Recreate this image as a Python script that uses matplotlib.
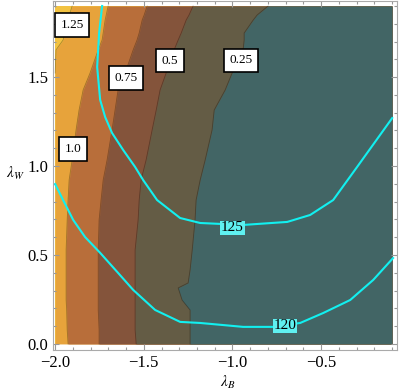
import numpy as np
import matplotlib
matplotlib.use("Agg")
from matplotlib import pyplot as plt
from matplotlib.ticker import MultipleLocator

# rows of the filled-contour picture (lambda_W)
y_rows = [1.90, 1.849, 1.821, 1.748, 1.709, 1.653, 1.523, 1.428, 1.315, 1.203, 1.034,
          0.922, 0.809, 0.697, 0.528, 0.416, 0.343, 0.315, 0.247, 0.191, 0.079, 0.0]
# lambda_B where each level is crossed on those rows
x_125 = [-1.904, -1.92, -1.927, -1.945, -1.955, -1.995, -2.0, -2.0, -2.0, -2.0, -2.0,
         -2.0, -2.0, -2.0, -2.0, -2.0, -2.0, -2.0, -2.0, -2.0, -2.0, -2.0]
x_100 = [-1.701, -1.712, -1.718, -1.729, -1.735, -1.757, -1.803, -1.842, -1.865, -1.882, -1.904,
         -1.921, -1.927, -1.932, -1.938, -1.938, -1.938, -1.938, -1.938, -1.935, -1.932, -1.927]
x_075 = [-1.481, -1.498, -1.509, -1.526, -1.538, -1.560, -1.605, -1.645, -1.662, -1.679, -1.707,
         -1.729, -1.741, -1.752, -1.757, -1.757, -1.757, -1.757, -1.757, -1.757, -1.752, -1.752]
x_050 = [-1.222, -1.245, -1.261, -1.289, -1.306, -1.329, -1.374, -1.408, -1.430, -1.453, -1.487,
         -1.515, -1.526, -1.532, -1.549, -1.549, -1.549, -1.549, -1.549, -1.549, -1.549, -1.543]
x_025 = [-0.799, -0.861, -0.883, -0.934, -0.934, -0.940, -1.002, -1.041, -1.103, -1.115, -1.154,
         -1.182, -1.205, -1.211, -1.227, -1.239, -1.250, -1.306, -1.284, -1.239, -1.239, -1.239]

# cyan curves
c125_x = [-1.735, -1.752, -1.763, -1.746, -1.718, -1.679, -1.616, -1.549, -1.504, -1.425,
          -1.295, -1.182, -0.940, -0.691, -0.562, -0.432, -0.297, -0.099]
c125_y = [1.900, 1.748, 1.557, 1.372, 1.276, 1.186, 1.090, 0.995, 0.922, 0.809,
          0.708, 0.680, 0.669, 0.686, 0.725, 0.809, 0.995, 1.270]
c120_x = [-2.0, -1.955, -1.898, -1.831, -1.746, -1.650, -1.560, -1.436, -1.295, -1.182,
          -0.940, -0.770, -0.618, -0.488, -0.336, -0.206, -0.094]
c120_y = [0.899, 0.809, 0.697, 0.601, 0.512, 0.405, 0.304, 0.191, 0.124, 0.118,
          0.096, 0.096, 0.118, 0.174, 0.247, 0.360, 0.483]

fill_colors = ["#f2c241", "#e7a33b", "#b86e3a", "#84543b", "#645c45", "#426565"]
box_labels = ["1.25", "1.0", "0.75", "0.5", "0.25"]
box_pos = [(-1.904, 1.793), (-1.898, 1.096), (-1.600, 1.495), (-1.351, 1.591), (-0.951, 1.596)]

plt.rcParams['font.family'] = ['Liberation Serif', 'DejaVu Serif']
plt.rcParams['mathtext.fontset'] = 'stix'

fig = plt.figure(figsize=(3.99, 3.92), dpi=100)
ax = fig.add_axes([53 / 399, 1 - 350 / 392, 344 / 399, 349 / 392])

y = np.array(y_rows)
right = -0.1
lefts = [np.full(len(y), -2.0), x_125, x_100, x_075, x_050, x_025]
for left, col in zip(lefts, fill_colors):
    ax.fill_betweenx(y, left, right, color=col, lw=0)

for bx in [x_125[:7], x_100, x_075, x_050, x_025]:
    ax.plot(bx, y[:len(bx)], color=(0, 0, 0, 0.3), lw=0.6)

ax.plot(c125_x, c125_y, color="#12f0f0", lw=1.5)
ax.plot(c120_x, c120_y, color="#12f0f0", lw=1.5)

for lab, (px, py) in zip(box_labels, box_pos):
    ax.text(px, py, lab, fontsize=9.5, ha="center", va="center",
            bbox=dict(boxstyle="square,pad=0.42", fc="white", ec="black", lw=1.2))

ax.text(-1.0, 0.652, "125", fontsize=11, ha="center", va="center",
        bbox=dict(boxstyle="square,pad=0.06", fc="#5ff0f0", ec="none"))
ax.text(-0.703, 0.101, "120", fontsize=11, ha="center", va="center",
        bbox=dict(boxstyle="square,pad=0.06", fc="#5ff0f0", ec="none"))

ax.set_xlim(-2.012, -0.072)
ax.set_ylim(-0.034, 1.928)
ax.set_xticks([-2.0, -1.5, -1.0, -0.5])
ax.set_xticklabels(["\u22122.0", "\u22121.5", "\u22121.0", "\u22120.5"])
ax.set_yticks([0.0, 0.5, 1.0, 1.5])
ax.set_yticklabels(["0.0", "0.5", "1.0", "1.5"])
ax.xaxis.set_minor_locator(MultipleLocator(0.1))
ax.yaxis.set_minor_locator(MultipleLocator(0.1))
ax.tick_params(which="both", direction="in", top=True, right=True, color="#999999",
               labelsize=12, width=0.8)
ax.tick_params(which="major", length=4.5)
ax.tick_params(which="minor", length=2.5)
for s in ax.spines.values():
    s.set_color("#aaaaaa")
    s.set_linewidth(0.8)

fig.text(228 / 399, 1 - 382 / 392, r"$\lambda_B$", fontsize=11, ha="center", va="center")
fig.text(15 / 399, 1 - 173 / 392, r"$\lambda_W$", fontsize=11, ha="center", va="center")

fig.savefig("out.png", dpi=100)
